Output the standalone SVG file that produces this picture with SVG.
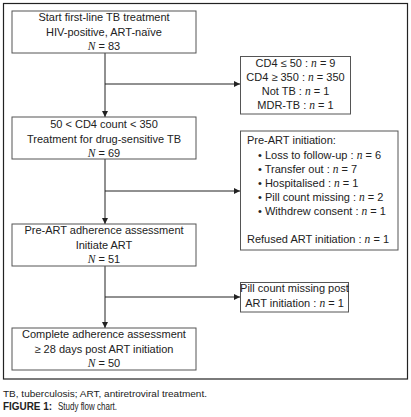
<svg xmlns="http://www.w3.org/2000/svg" width="411" height="417" viewBox="0 0 411 417">
<style>
  .box { fill: #fff; stroke: #555; stroke-width: 1; }
  .frame { fill: #fff; stroke: #222; stroke-width: 1.2; }
  text { font-family: "Liberation Sans", Arial, sans-serif; font-size: 11px; fill: #222; }
  .c { text-anchor: middle; }
  .i { font-family: "Liberation Serif", "Times New Roman", serif; font-style: italic; font-size: 11.5px; }
  .cap { font-size: 9.5px; fill: #222; }
  .fig { font-size: 11.5px; fill: #222; }
  .conn line { stroke: #222; stroke-width: 1; }
</style>
<defs>
  <marker id="ah" viewBox="0 0 6 6" refX="6" refY="3" markerWidth="6" markerHeight="6" markerUnits="userSpaceOnUse" orient="auto">
    <path d="M0,0 L6,3 L0,6 Z" fill="#222"/>
  </marker>
</defs>
<rect width="411" height="417" fill="#fff"/>
<rect class="frame" x="3.5" y="3.5" width="404" height="375.5"/>

<g class="conn">
  <line x1="105" y1="53" x2="105" y2="117" marker-end="url(#ah)"/>
  <line x1="105" y1="84" x2="240" y2="84" marker-end="url(#ah)"/>
  <line x1="105" y1="159" x2="105" y2="224" marker-end="url(#ah)"/>
  <line x1="105" y1="191" x2="240" y2="191" marker-end="url(#ah)"/>
  <line x1="105" y1="266" x2="105" y2="328" marker-end="url(#ah)"/>
  <line x1="105" y1="297" x2="240" y2="297" marker-end="url(#ah)"/>
</g>

<g id="start">
  <rect class="box" x="12" y="11" width="184" height="42"/>
  <text class="c" x="104" y="21">Start first-line TB treatment</text>
  <text class="c" x="104" y="35.5">HIV-positive, ART-naïve</text>
  <text class="c" x="104" y="50"><tspan class="i">N</tspan> = 83</text>
</g>

<g id="excl1">
  <rect class="box" x="240.5" y="56.5" width="110" height="57.5"/>
  <text class="c" x="295.5" y="67">CD4 ≤ 50 : <tspan class="i">n</tspan> = 9</text>
  <text class="c" x="295.5" y="81">CD4 ≥ 350 : <tspan class="i">n</tspan> = 350</text>
  <text class="c" x="295.5" y="95">Not TB : <tspan class="i">n</tspan> = 1</text>
  <text class="c" x="295.5" y="109">MDR-TB : <tspan class="i">n</tspan> = 1</text>
</g>

<g id="dstb">
  <rect class="box" x="12" y="117" width="184" height="42"/>
  <text class="c" x="104" y="128">50 &lt; CD4 count &lt; 350</text>
  <text class="c" x="104" y="142.5">Treatment for drug-sensitive TB</text>
  <text class="c" x="104" y="157"><tspan class="i">N</tspan> = 69</text>
</g>

<g id="excl2">
  <rect class="box" x="240.5" y="131" width="157.5" height="119"/>
  <text x="247" y="144">Pre-ART initiation:</text>
  <text x="258" y="159">• Loss to follow-up : <tspan class="i">n</tspan> = 6</text>
  <text x="258" y="173">• Transfer out : <tspan class="i">n</tspan> = 7</text>
  <text x="258" y="187">• Hospitalised : <tspan class="i">n</tspan> = 1</text>
  <text x="258" y="201">• Pill count missing : <tspan class="i">n</tspan> = 2</text>
  <text x="258" y="215">• Withdrew consent : <tspan class="i">n</tspan> = 1</text>
  <text x="247" y="243">Refused ART initiation : <tspan class="i">n</tspan> = 1</text>
</g>

<g id="preart">
  <rect class="box" x="12" y="224" width="184" height="42"/>
  <text class="c" x="104" y="234">Pre-ART adherence assessment</text>
  <text class="c" x="104" y="248.5">Initiate ART</text>
  <text class="c" x="104" y="263"><tspan class="i">N</tspan> = 51</text>
</g>

<g id="excl3">
  <rect class="box" x="240.5" y="282.5" width="108" height="29.5"/>
  <text class="c" x="294.5" y="292">Pill count missing post</text>
  <text class="c" x="294.5" y="307">ART initiation : <tspan class="i">n</tspan> = 1</text>
</g>

<g id="complete">
  <rect class="box" x="12" y="328" width="184" height="42"/>
  <text class="c" x="104" y="338">Complete adherence assessment</text>
  <text class="c" x="104" y="352.5">≥ 28 days post ART initiation</text>
  <text class="c" x="104" y="367"><tspan class="i">N</tspan> = 50</text>
</g>

<text class="cap" x="3" y="397" textLength="204" lengthAdjust="spacingAndGlyphs">TB, tuberculosis; ART, antiretroviral treatment.</text>
<text class="fig" x="3" y="410" font-weight="bold" textLength="49" lengthAdjust="spacingAndGlyphs">FIGURE 1:</text>
<text class="fig" x="58" y="410" textLength="59" lengthAdjust="spacingAndGlyphs">Study flow chart.</text>
</svg>
